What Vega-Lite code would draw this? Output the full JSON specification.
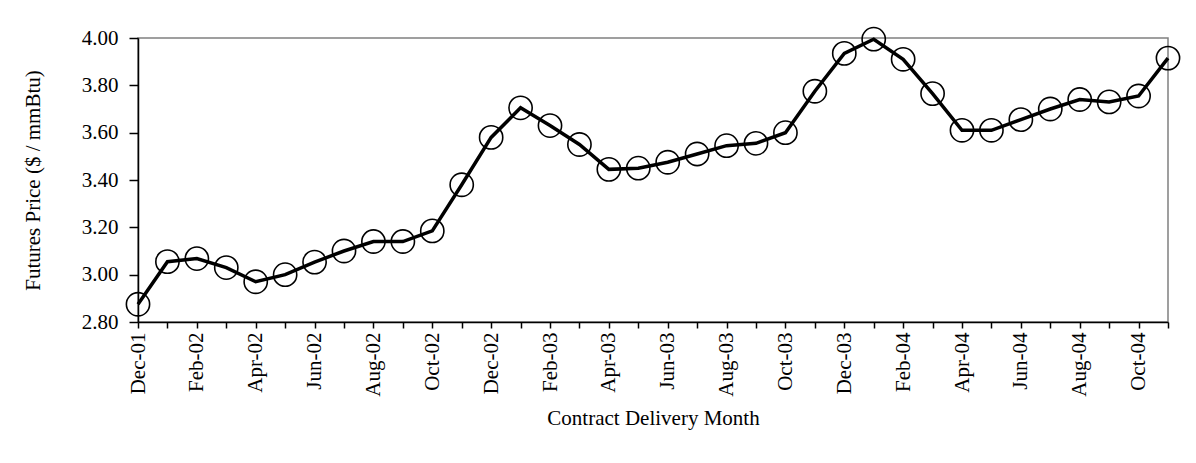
{
  "$schema": "https://vega.github.io/schema/vega-lite/v6.json",
  "autosize": {"type": "none"},
  "padding": {"left": 138, "top": 38, "right": 28, "bottom": 141},
  "width": 1030,
  "height": 284,
  "background": "white",
  "config": {
    "font": "Liberation Serif",
    "view": {"stroke": "#808080", "strokeWidth": 1.5},
    "axis": {
      "labelFont": "Liberation Serif",
      "titleFont": "Liberation Serif",
      "labelColor": "black",
      "titleColor": "black",
      "domainColor": "black",
      "tickColor": "black",
      "domainWidth": 1.5,
      "tickWidth": 1.5,
      "grid": false,
      "labelFontSize": 21,
      "titleFontSize": 21,
      "titleFontWeight": "normal"
    }
  },
  "data": {
    "values": [
      {"month": "Dec-01", "price": 2.875},
      {"month": "Jan-02", "price": 3.055},
      {"month": "Feb-02", "price": 3.068},
      {"month": "Mar-02", "price": 3.03},
      {"month": "Apr-02", "price": 2.97},
      {"month": "May-02", "price": 3.0},
      {"month": "Jun-02", "price": 3.053},
      {"month": "Jul-02", "price": 3.1},
      {"month": "Aug-02", "price": 3.14},
      {"month": "Sep-02", "price": 3.14},
      {"month": "Oct-02", "price": 3.185},
      {"month": "Nov-02", "price": 3.38},
      {"month": "Dec-02", "price": 3.58},
      {"month": "Jan-03", "price": 3.705},
      {"month": "Feb-03", "price": 3.63},
      {"month": "Mar-03", "price": 3.55},
      {"month": "Apr-03", "price": 3.445},
      {"month": "May-03", "price": 3.45},
      {"month": "Jun-03", "price": 3.475},
      {"month": "Jul-03", "price": 3.51},
      {"month": "Aug-03", "price": 3.545},
      {"month": "Sep-03", "price": 3.555},
      {"month": "Oct-03", "price": 3.6},
      {"month": "Nov-03", "price": 3.775},
      {"month": "Dec-03", "price": 3.935},
      {"month": "Jan-04", "price": 3.995},
      {"month": "Feb-04", "price": 3.91},
      {"month": "Mar-04", "price": 3.765},
      {"month": "Apr-04", "price": 3.61},
      {"month": "May-04", "price": 3.61},
      {"month": "Jun-04", "price": 3.655},
      {"month": "Jul-04", "price": 3.7},
      {"month": "Aug-04", "price": 3.74},
      {"month": "Sep-04", "price": 3.73},
      {"month": "Oct-04", "price": 3.755},
      {"month": "Nov-04", "price": 3.915}
    ]
  },
  "encoding": {
    "x": {
      "field": "month",
      "type": "ordinal",
      "sort": null,
      "scale": {"type": "point", "padding": 0},
      "axis": {
        "title": "Contract Delivery Month",
        "labelAngle": -90,
        "labelAlign": "right",
        "labelBaseline": "middle",
        "labelPadding": 4,
        "tickSize": 6,
        "titlePadding": 11,
        "labelExpr": "indexof(['Dec','Feb','Apr','Jun','Aug','Oct'], slice(datum.label, 0, 3)) >= 0 ? datum.label : ''"
      }
    },
    "y": {
      "field": "price",
      "type": "quantitative",
      "scale": {"domain": [2.8, 4.0], "zero": false, "nice": false},
      "axis": {
        "title": "Futures Price ($ / mmBtu)",
        "values": [2.8, 3.0, 3.2, 3.4, 3.6, 3.8, 4.0],
        "format": ".2f",
        "tickSize": 9,
        "labelPadding": 11,
        "titlePadding": 38
      }
    }
  },
  "layer": [
    {"mark": {"type": "line", "color": "black", "strokeWidth": 3.5, "clip": false}},
    {"mark": {"type": "point", "shape": "circle", "filled": false, "stroke": "black", "strokeWidth": 1.6, "size": 540, "opacity": 1, "clip": false}}
  ]
}
